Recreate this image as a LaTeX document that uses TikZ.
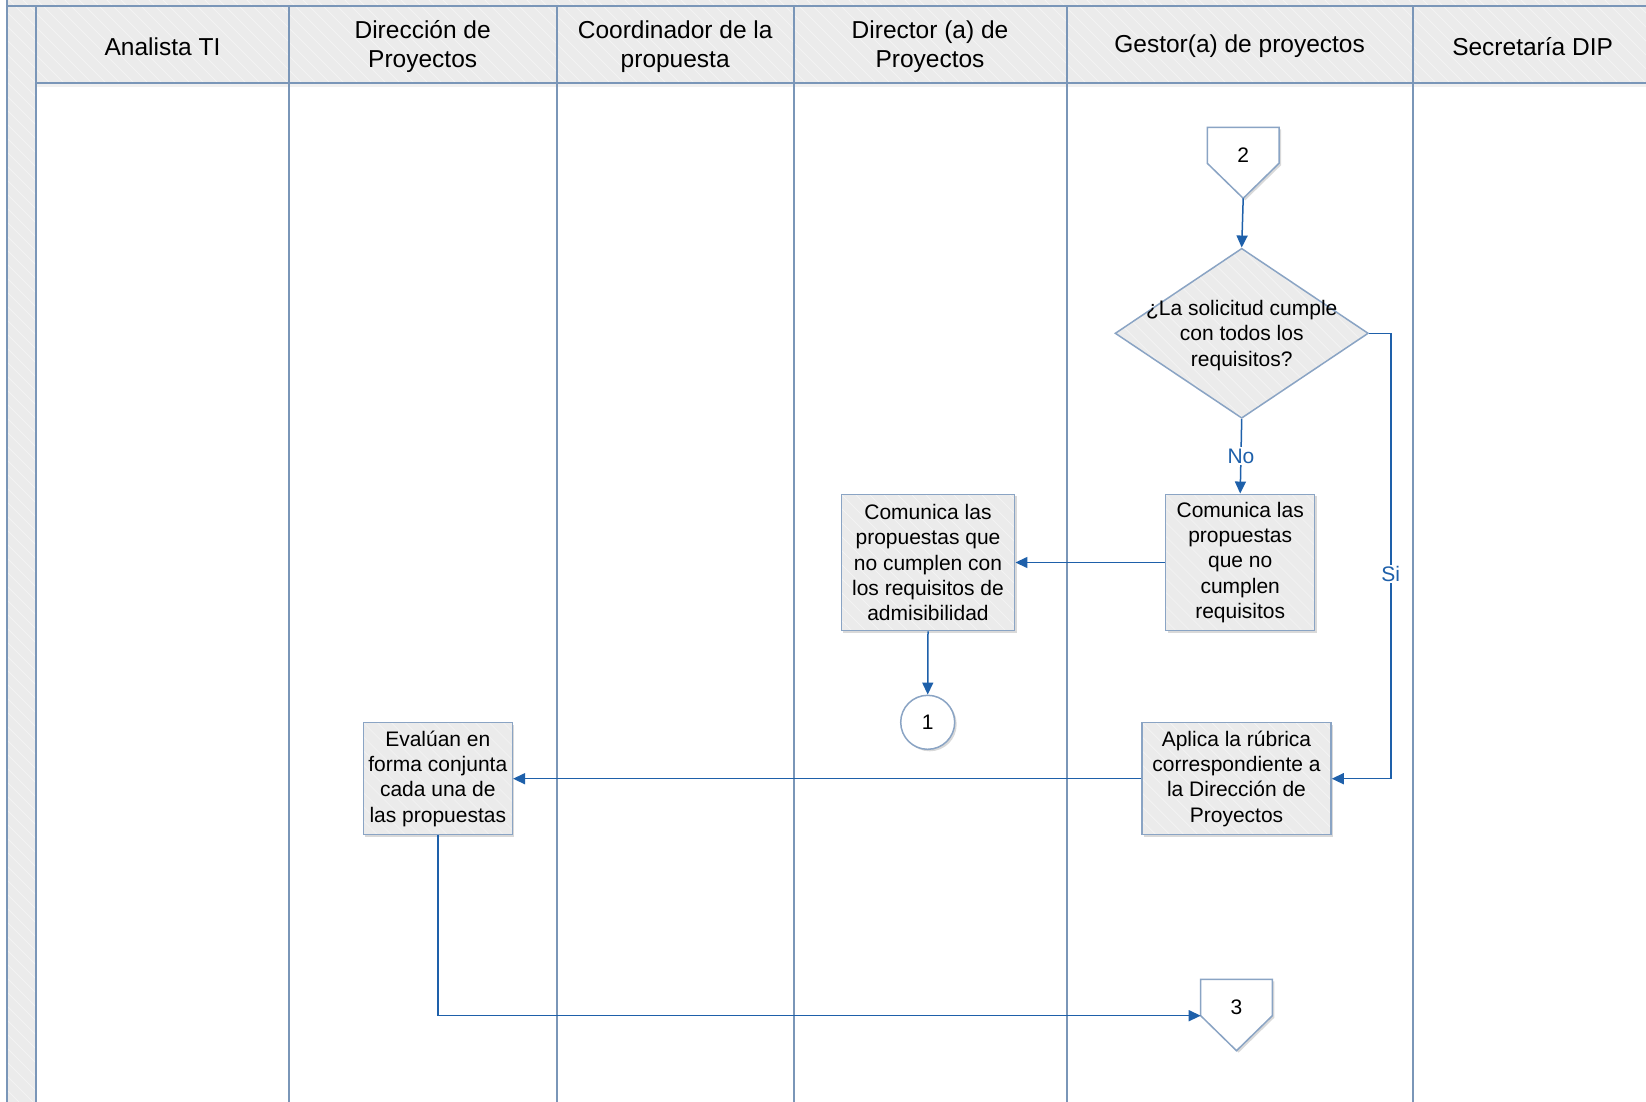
\documentclass[tikz,border=0pt]{standalone}
\usepackage{fontspec}
\setmainfont{Liberation Sans}
\usetikzlibrary{arrows.meta,shapes.geometric,shadows,calc}
\definecolor{lanec}{RGB}{122,150,184}
\definecolor{hdrfill}{RGB}{235,235,235}
\definecolor{hatchc}{RGB}{243,243,243}
\definecolor{boxline}{RGB}{138,164,196}
\definecolor{flow}{RGB}{30,96,170}
\begin{document}
\begin{tikzpicture}[x=1pt,y=-1pt,
  hatchbig/.style={path picture={\foreach \k in {-90,...,125}{\draw[hatchc,line width=0.8pt] ($(path picture bounding box.north west)+(\k*14,0)$) -- ++(1300pt,-1300pt);}}},
  hatchsmall/.style={path picture={\foreach \k in {-22,...,22}{\draw[hatchc,line width=0.8pt] ($(path picture bounding box.north west)+(\k*14,0)$) -- ++(320pt,-320pt);}}},
  laneline/.style={draw=lanec,line width=2pt},
  hdr/.style={align=center,font=\fontsize{24.5}{29.5}\selectfont,inner sep=0pt},
  shade/.style={drop shadow={shadow xshift=2pt,shadow yshift=-2pt,opacity=0.15,fill=black}},
  procbox/.style={draw=boxline,line width=1.5pt,fill=hdrfill,hatchsmall,shade,align=center,
    font=\fontsize{21}{25.2}\selectfont,inner sep=2pt},
  decision/.style={diamond,draw=boxline,line width=1.5pt,fill=hdrfill,hatchsmall,inner sep=0pt,
    minimum width=253.3pt,minimum height=170pt},
  txt/.style={align=center,font=\fontsize{21}{25.2}\selectfont,inner sep=0pt},
  offpage/.style={draw=boxline,line width=1.5pt,fill=white,shade},
  onpage/.style={circle,draw=boxline,line width=1.5pt,fill=white,shade,minimum size=54pt,inner sep=0pt,
    font=\fontsize{21}{25.2}\selectfont},
  flowline/.style={draw=flow,line width=1.5pt,-{Triangle[length=12pt,width=11pt]}},
  lbl/.style={fill=white,text=flow,font=\fontsize{21}{25.2}\selectfont,inner sep=1.5pt}
]
\useasboundingbox (0,0) rectangle (1646,1102);
\clip (0,0) rectangle (1646,1102);
\fill[white] (0,0) rectangle (1646,1102);
% pool header band and left strip
\path[fill=hdrfill,hatchbig] (7,-2) rectangle (1660,83) (7,-2) rectangle (36.3,1110);
% soft shadow below header
\fill[black,opacity=0.06] (36.3,84) rectangle (1660,87);
% lane lines
\draw[laneline] (7,-2) -- (7,1110);
\draw[laneline] (7,6) -- (1660,6);
\draw[laneline] (36.3,83) -- (1660,83);
\foreach \xx in {36.3,288.7,556.7,793.6,1066.5,1412.7}{\draw[laneline] (\xx,6) -- (\xx,1110);}
% headers
\node[hdr] (h1) at (162.5,46.5) {Analista TI};
\node[hdr] (h2) at (422.7,46.5) {Dirección de\\Proyectos};
\node[hdr] (h3) at (675.2,46.5) {Coordinador de la\\propuesta};
\node[hdr] (h4) at (930,46.5) {Director (a) de\\Proyectos};
\node[hdr] (h5) at (1239.6,46.5) {Gestor(a) de proyectos};
\node[hdr] (h6) at (1532.6,46.5) {Secretaría DIP};
% off-page connector 2
\draw[offpage] (1207.3,127.3) -- (1279,127.3) -- (1279,163.3) -- (1243.2,198.3) -- (1207.3,163.3) -- cycle;
\node[txt] (off2) at (1243.2,155) {2};
\coordinate (off2tip) at (1243.2,198.3);
% decision
\node[decision] (dia) at (1241.7,333.3) {};
\node[txt] (diatext) at (1241.7,335.5) {¿La solicitud cumple\\con todos los\\requisitos?};
% process boxes
\node[procbox,minimum width=149pt,minimum height=136.4pt] (nc) at (1240.2,562.5) {Comunica las\\propuestas\\que no\\cumplen\\requisitos};
\node[procbox,minimum width=173.4pt,minimum height=136.4pt] (cl) at (928,562.5) {Comunica las\\propuestas que\\no cumplen con\\los requisitos de\\admisibilidad};
\node[onpage] (c1) at (927.7,722.3) {1};
\node[procbox,minimum width=189pt,minimum height=112pt] (rb) at (1236.5,778.7) {Aplica la rúbrica\\correspondiente a\\la Dirección de\\Proyectos};
\node[procbox,minimum width=149pt,minimum height=112pt] (ev) at (437.8,778.7) {Evalúan en\\forma conjunta\\cada una de\\las propuestas};
% off-page connector 3
\draw[offpage] (1200.7,979.3) -- (1272.3,979.3) -- (1272.3,1015.7) -- (1236.5,1050.7) -- (1200.7,1015.7) -- cycle;
\node[txt] (off3) at (1236.5,1007) {3};
\coordinate (off3left) at (1200.7,1015.7);
% connectors
\draw[flowline] (off2tip) -- (dia.north);
\draw[flowline] (dia.south) -- node[lbl,pos=0.5] (no) {No} (nc.north);
\draw[flowline] (dia.east) -- ++(21.7,0) |- node[lbl,pos=0.27] (si) {Si} (rb.east);
\draw[flowline] (nc.west) -- (cl.east);
\draw[flowline] (cl.south) -- (c1.north);
\draw[flowline] (rb.west) -- (ev.east);
\draw[flowline] (ev.south) |- (off3left);
\end{tikzpicture}
\end{document}
